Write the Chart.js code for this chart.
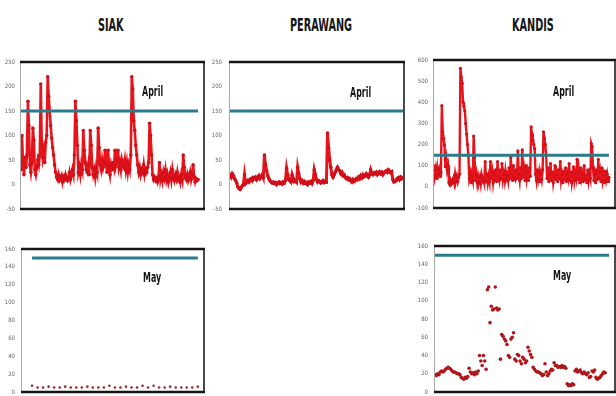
<!DOCTYPE html>
<html>
<head>
<meta charset="utf-8">
<script src="https://cdn.jsdelivr.net/npm/chart.js@4.4.0/dist/chart.umd.min.js"></script>
<style>
  body { margin: 0; background: #fff; width: 616px; height: 396px; overflow: hidden; position: relative;
         font-family: "Liberation Sans Narrow", "DejaVu Sans Condensed", Arial, sans-serif; }
  canvas { position: absolute; }
  .title, .tag { position: absolute; font-weight: bold; color: #151515; white-space: nowrap; transform-origin: left top; }
  .title { font-size: 13px; line-height: 13px; transform: scale(0.83, 1.4); top: 16px; }
  .tag { font-size: 11px; line-height: 11px; transform: scale(0.8, 1.3); }
</style>
</head>
<body>
<div class="title" style="left:98px">SIAK</div>
<div class="title" style="left:290px">PERAWANG</div>
<div class="title" style="left:512px">KANDIS</div>

<canvas id="siakApril" width="210" height="160" style="left:0px;top:55px"></canvas>
<canvas id="perawangApril" width="206" height="160" style="left:204px;top:55px"></canvas>
<canvas id="kandisApril" width="215" height="160" style="left:405px;top:55px"></canvas>
<canvas id="siakMay" width="210" height="156" style="left:0px;top:240px"></canvas>
<canvas id="kandisMay" width="215" height="156" style="left:405px;top:240px"></canvas>

<div class="tag" style="left:142px;top:84px">April</div>
<div class="tag" style="left:350px;top:85px">April</div>
<div class="tag" style="left:553px;top:84px">April</div>
<div class="tag" style="left:143px;top:270px">May</div>
<div class="tag" style="left:553px;top:268px">May</div>

<script>
// hourly values, April
const siakApril = [30, 100, 45, 20, 55, 35, 60, 170, 120, 40, 25, 45, 115, 90, 30,
  20, 35, 50, 40, 60, 205, 80, 55, 70, 45, 85, 100, 220, 180, 150, 120,
  95, 75, 60, 40, 25, 15, 10, 20, 8, 12, 18, 5, 15, 10, 20, 12, 8, 15, 25, 10, 18, 30, 20,
  60, 170, 130, 80, 25, 35, 20, 40, 30, 110, 70, 45, 30, 25, 40, 20, 110, 80, 35,
  20, 30, 15, 35, 25, 115, 75, 40, 30, 50, 35, 45, 70, 40, 25, 70, 35, 20,
  40, 30, 45, 35, 70, 40, 50, 70, 35, 45, 30, 50, 40, 35, 50, 30, 45, 25, 40, 30, 60,
  220, 195, 130, 110, 80, 60, 40, 25, 35, 20, 30, 25, 40, 20, 30, 25, 35, 45,
  125, 100, 60, 20, 10, 15, 8, 12, 5, 15, 45,
  10, 20, 8, 25, 15, 30, 10, 20, 5, 15, 25, 10, 30, 15, 8, 20, 12, 25, 10, 15, 5, 20, 10,
  60, 35, 15, 10, 20, 8, 15, 25, 10, 20, 40, 15, 5, 12, 8, 10];

const perawangApril = [18, 20, 15, 22, 18, 12, 8, 3, -5, -8, -10, -6, -3, 0, 20, 2, 5,
  8, 5, 10, 12, 8, 14, 12, 15, 10, 14, 18, 12, 15, 20, 14, 60, 40, 28, 18, 12, 8, 5,
  3, 5, 2, 4, 0, 3, 5, 2, 4, 1, 5, 3, 8, 33, 20, 10, 8, 5, 20, 12, 6, 8, 5, 35, 22, 12,
  5, 8, 3, 6, 2, 4, 0, 5, 3, 6, 2, 8, 30, 20, 10, 5, 8, 6, 3, 5, 8, 4, 6, 5,
  105, 75, 50, 35, 20, 15, 20, 25, 30, 35, 30, 28, 22, 25, 18, 20, 15, 12, 14, 10, 12,
  8, 5, 10, 6, 8, 12, 10, 15, 12, 18, 14, 20, 16, 18, 22, 18, 15, 20, 30, 22,
  20, 24, 22, 25, 20, 23, 26, 22, 25, 20, 24, 26, 28, 25, 30, 27, 24, 26,
  10, 5, 6, 8, 12, 14, 10, 15, 12, 14, 11, 13];

const kandisApril = [30, 100, 50, 80, 40, 90, 60, 80, 50, 70, 384, 260, 230, 197,
  95, 130, 80, 100, 20, 10, 30, 15, 25, 40, 20, 60, 30, 50, 25, 45, 60,
  560, 520, 490, 400, 380, 360, 300, 250, 200, 150, 40, 60, 20, 50, 30, 240, 140,
  30, 60, 20, 50, 25, 45, 15, 55, 30, 40, 20, 120, 30, 60, 20, 50, 25, 120,
  40, 70, 20, 55, 30, 80, 25, 120, 50, 30, 80, 40, 110, 35, 60, 30, 75, 40, 55,
  30, 90, 40, 140, 60, 30, 100, 45, 35, 80, 40, 170, 60, 30, 90, 40, 175,
  50, 80, 30, 100, 40, 70, 30, 90, 50, 284, 250, 220, 200, 180,
  60, 30, 80, 40, 70, 25, 60, 35, 80, 260, 230, 200, 150,
  40, 90, 25, 60, 110, 30, 70, 20, 50, 100, 35, 60, 25, 80, 40, 120, 30, 55, 20, 75,
  35, 90, 25, 60, 40, 110, 30, 70, 20, 50, 95, 30, 60, 40, 130,
  35, 70, 20, 90, 40, 60, 25, 100, 35, 55, 20, 80, 30, 60, 40, 205, 190, 90,
  30, 60, 20, 80, 35, 130, 40, 70, 25, 90, 30, 55, 20, 75, 35, 60, 25, 45];

// daily values, May (SIAK) and hourly-ish values (KANDIS)
const siakMay = [7, 5, 5, 6, 5, 5, 6, 5, 5, 5, 6, 5, 5, 5, 7, 5, 5, 6, 5, 5, 7, 5, 7,
  5, 5, 6, 5, 5, 5, 5, 6];

const kandisMay = [19, 18, 20, 19, 22, 23, 22, 23, 25, 26, 27, 26, 25, 23, 22,
  22, 21, 20, 20, 19, 16, 15, 14, 16, 15, 17, 26, 22, 20, 21, 19, 22, 20, 23,
  40, 34, 29, 40, 34, 25, 112, 115, 76, 94, 90, 91, 115, 92, 90, 91, 36,
  63, 61, 58, 56, 52, 40, 38, 58, 60, 65, 36, 34, 41, 40, 34, 31, 38, 36, 32, 34,
  49, 45, 41, 38, 27, 25, 23, 22, 22, 21, 20, 18, 19, 31, 22, 18, 20, 23, 25, 24,
  32, 29, 29, 27, 28, 27, 29, 27, 28, 26, 9, 7, 8, 7, 9, 8, 23, 25, 22, 23, 24,
  21, 20, 22, 20, 19, 21, 16, 17, 23, 22, 24, 16, 14, 15, 16, 18, 20, 22, 21];

const threshold = 150;

const frame = {
  id: 'frame',
  afterDraw(chart) {
    const { ctx, chartArea: a } = chart;
    ctx.save();
    ctx.strokeStyle = '#a8a8a8';
    ctx.lineWidth = 1;
    ctx.beginPath();
    ctx.moveTo(a.left + 0.5, a.top);
    ctx.lineTo(a.left + 0.5, a.bottom);
    ctx.stroke();
    ctx.strokeStyle = '#4a4a4a';
    ctx.lineWidth = 2;
    ctx.beginPath();
    ctx.moveTo(a.right - 1, a.top);
    ctx.lineTo(a.right - 1, a.bottom);
    ctx.stroke();
    ctx.strokeStyle = '#151515';
    ctx.lineWidth = 2.5;
    ctx.beginPath();
    ctx.moveTo(a.left, a.top);
    ctx.lineTo(a.right, a.top);
    ctx.moveTo(a.left, a.bottom);
    ctx.lineTo(a.right, a.bottom);
    ctx.stroke();
    ctx.restore();
  }
};

function drawPanel(id, values, o) {
  new Chart(document.getElementById(id), {
    type: 'scatter',
    data: {
      datasets: [{
        data: [{ x: o.from, y: threshold }, { x: o.to, y: threshold }],
        showLine: true,
        borderColor: '#2a7b8b',
        borderWidth: 3,
        pointRadius: 0
      }, {
        data: values.map((v, i) => ({ x: i, y: v })),
        showLine: o.joined,
        borderColor: '#e8141c',
        borderWidth: o.lineWidth,
        pointRadius: o.radius,
        pointBackgroundColor: o.dot,
        pointBorderWidth: 0
      }]
    },
    options: {
      responsive: false,
      animation: false,
      layout: { padding: o.pad },
      plugins: { legend: { display: false }, tooltip: { enabled: false } },
      scales: {
        x: { display: false, min: o.xMin, max: o.xMax },
        y: {
          min: o.yMin, max: o.yMax,
          ticks: { stepSize: o.step, color: '#666', padding: o.tickPad,
                   font: { size: 6, family: '"Liberation Sans Narrow", "DejaVu Sans Condensed", Arial' } },
          grid: { display: false, drawTicks: false },
          border: { display: false },
          afterFit(s) {
            s.width = o.axisW;
            // keep the plot box where the layout padding puts it
            s.paddingTop = 0;
            s.paddingBottom = 0;
          }
        }
      }
    },
    plugins: [frame]
  });
}

drawPanel('siakApril', siakApril, {
  from: -1, to: 179, xMin: -1, xMax: 186, yMin: -50, yMax: 250, step: 50,
  joined: true, lineWidth: 2.6, radius: 1.8, dot: '#d0101a',
  pad: { left: 0, top: 7, right: 5, bottom: 6 }, axisW: 20, tickPad: 5
});

drawPanel('perawangApril', perawangApril, {
  from: 0, to: 159, xMin: 0, xMax: 159, yMin: -50, yMax: 250, step: 50,
  joined: true, lineWidth: 3, radius: 1.8, dot: '#d0101a',
  pad: { left: 0, top: 7, right: 5, bottom: 6 }, axisW: 25, tickPad: 7
});

drawPanel('kandisApril', kandisApril, {
  from: 0, to: 199, xMin: 0, xMax: 207, yMin: -100, yMax: 600, step: 100,
  joined: true, lineWidth: 2.4, radius: 1.6, dot: '#d0101a',
  pad: { left: 0, top: 5, right: 4, bottom: 7 }, axisW: 28, tickPad: 5
});

drawPanel('siakMay', siakMay, {
  from: 0, to: 30, xMin: -2, xMax: 31.3, yMin: 0, yMax: 160, step: 20,
  joined: false, lineWidth: 0, radius: 1.3, dot: '#9a2a2a',
  pad: { left: 0, top: 9, right: 5, bottom: 3 }, axisW: 21, tickPad: 6
});

drawPanel('kandisMay', kandisMay, {
  from: 0, to: 133, xMin: -0.8, xMax: 138.3, yMin: 0, yMax: 160, step: 20,
  joined: false, lineWidth: 0, radius: 1.8, dot: '#b0161c',
  pad: { left: 0, top: 6, right: 4, bottom: 3 }, axisW: 29, tickPad: 6
});
</script>
</body>
</html>
